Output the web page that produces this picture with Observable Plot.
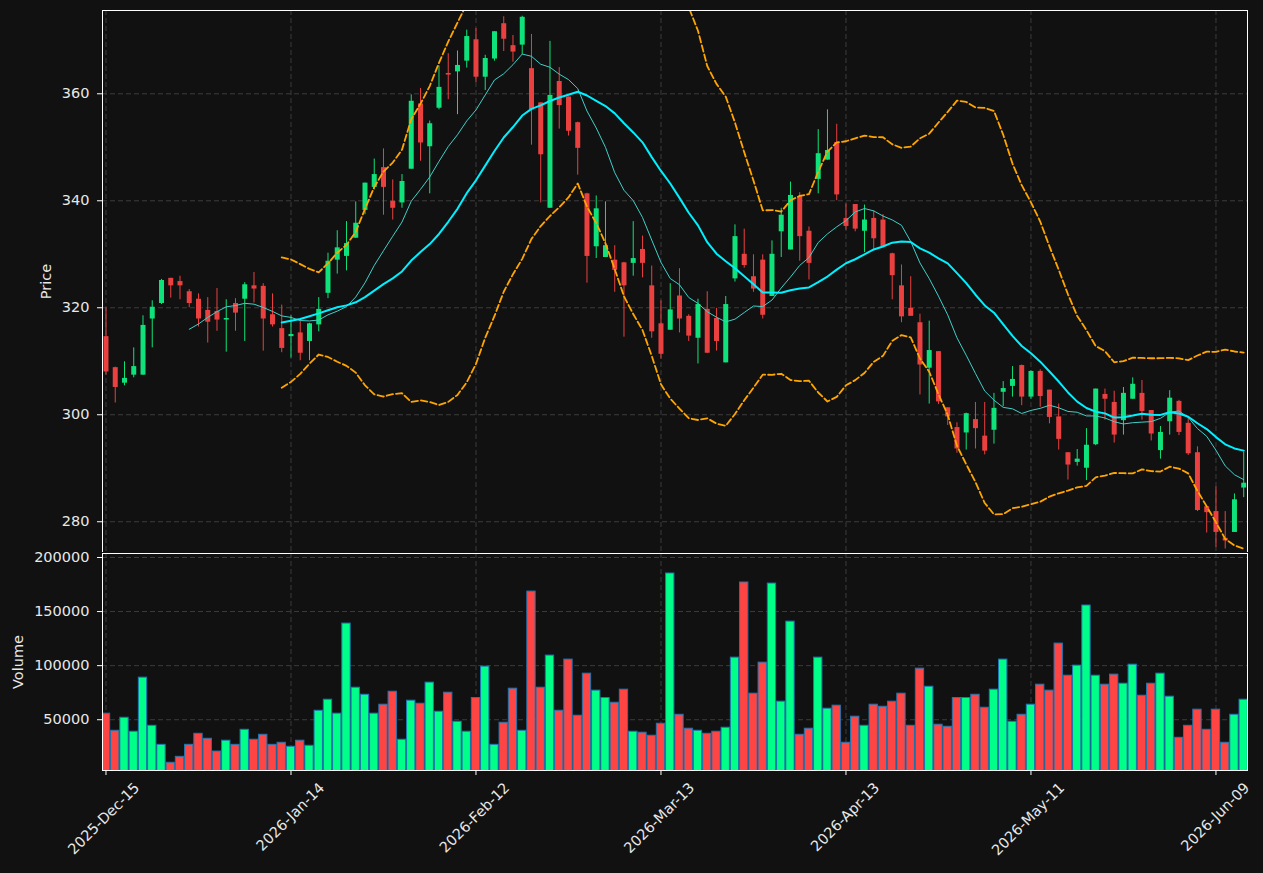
<!DOCTYPE html>
<html><head><meta charset="utf-8">
<script src="https://cdn.jsdelivr.net/npm/d3@7"></script>
<script src="https://cdn.jsdelivr.net/npm/@observablehq/plot@0.6"></script>
<style>
body{margin:0;background:#111111;}
#wrap{position:relative;width:1263px;height:873px;background:#111111;overflow:hidden;}
#price{position:absolute;left:0;top:0;}
#vol{position:absolute;left:0;top:552px;}
svg{overflow:visible;}
</style></head><body><div id="wrap"><div id="price"></div><div id="vol"></div></div>
<script>
const opens=[314.6,308.8,305.9,307.4,307.4,317.9,320.8,325.5,324.9,323.0,
321.6,319.5,319.3,317.7,320.8,321.6,324.1,324.0,318.7,316.1,
314.6,315.3,313.7,316.8,322.7,328.9,329.6,333.0,338.2,342.5,
346.2,339.9,339.6,345.9,358.1,350.1,357.3,363.8,364.1,366.1,
370.1,363.1,366.5,373.1,369.0,369.1,364.7,358.3,338.6,362.3,
359.4,354.6,341.3,331.4,329.4,328.9,328.4,328.3,330.9,324.1,
317.0,315.8,322.2,318.4,314.3,319.7,318.0,309.7,325.4,330.0,
325.8,328.9,322.1,334.2,330.8,340.8,334.3,344.0,347.6,350.9,
336.7,339.3,334.3,336.7,336.4,330.1,324.1,319.9,317.2,308.7,
311.8,301.3,297.6,296.6,299.1,296.0,297.1,304.2,305.3,309.2,
303.3,308.1,304.6,299.6,292.9,291.1,290.0,294.4,303.8,302.3,
298.9,302.9,304.0,300.8,293.3,298.7,302.5,298.4,292.9,282.8,
281.9,276.9,278.0,286.3];
const closes=[308.0,305.1,306.8,309.0,316.7,320.1,325.1,324.1,324.1,320.8,
317.9,317.3,317.7,318.0,319.0,324.3,323.5,317.9,316.8,312.4,
315.0,311.5,317.0,319.7,328.7,331.2,332.0,335.8,343.3,344.9,
342.5,338.6,343.6,358.6,350.8,354.4,361.2,363.5,365.3,370.7,
363.1,366.6,371.6,370.2,367.8,374.3,357.0,348.6,359.7,357.8,
353.0,349.8,329.6,338.5,331.6,327.0,324.1,329.2,328.3,315.5,
311.3,319.6,317.9,314.7,320.6,311.5,313.7,320.6,333.3,327.9,
323.5,318.6,330.0,337.3,341.0,333.3,328.3,348.8,349.4,341.1,
335.2,334.7,336.4,332.9,331.4,326.0,318.3,318.4,309.3,312.0,
302.4,299.6,293.6,300.2,297.4,293.2,301.2,304.9,306.6,303.3,
308.1,303.4,299.5,295.4,290.6,291.7,294.3,304.8,302.9,296.2,
304.0,305.7,300.6,296.4,296.7,303.1,296.7,292.7,282.1,281.7,
278.0,276.4,284.1,287.2];
const highs=[320.0,308.9,309.9,312.5,318.5,321.3,325.3,325.5,325.9,323.4,
322.6,321.9,323.6,321.5,321.7,324.7,326.6,324.5,322.6,320.5,
318.5,317.7,317.1,321.9,330.2,334.4,336.1,339.8,343.3,347.8,
349.7,343.9,344.9,359.8,361.0,354.9,365.2,367.5,368.0,371.9,
372.2,367.2,371.6,374.4,370.9,374.5,371.1,358.3,369.8,364.9,
359.4,354.7,341.4,340.9,339.8,331.6,328.5,336.1,333.4,327.8,
321.3,324.5,327.3,318.7,321.6,323.0,319.9,322.1,335.5,334.7,
329.9,329.9,332.5,338.6,343.5,341.5,335.1,353.3,357.0,354.3,
339.4,339.3,339.2,338.1,337.4,330.2,328.0,325.8,318.8,317.5,
311.8,301.3,298.5,300.3,302.3,302.3,304.0,306.2,309.0,309.3,
308.2,308.4,304.6,302.0,292.9,293.5,297.4,304.8,304.8,304.4,
305.1,306.9,306.4,300.8,297.8,304.5,302.7,299.3,294.0,282.8,
286.5,281.9,285.2,293.0];
const lows=[307.4,302.2,305.4,306.9,307.4,312.5,320.6,321.8,321.5,320.0,
316.4,313.4,315.6,311.7,315.6,313.7,320.9,311.9,316.4,311.6,
310.6,310.1,310.1,315.5,321.7,326.3,326.9,333.0,337.4,342.0,
337.3,336.4,338.6,345.9,347.4,341.3,357.0,358.9,356.1,364.8,
362.1,360.6,366.1,367.9,365.9,367.3,350.4,339.6,338.6,353.4,
352.1,344.8,324.6,329.2,329.4,322.9,314.5,325.9,325.6,314.3,
310.4,315.8,315.3,313.7,309.5,311.5,311.9,309.7,324.8,327.4,
322.9,317.9,322.1,329.4,330.8,328.7,325.2,341.3,347.6,340.0,
334.5,334.2,330.3,330.6,331.4,321.5,317.2,318.4,303.7,302.0,
301.9,298.0,292.8,293.4,293.6,292.5,294.5,301.5,303.3,301.7,
302.9,301.4,298.3,293.4,287.8,290.4,287.7,294.2,299.0,294.7,
296.2,302.9,299.0,295.1,291.7,296.2,296.1,292.4,281.9,277.9,
275.2,274.9,278.0,284.5];
const volumes=[55600,39800,51800,38900,88900,44400,26800,10200,15700,26800,
37000,32400,20600,30600,26800,40700,31500,36100,26800,28700,
25000,30600,25900,58300,68500,55600,138900,79600,73100,55600,
63900,75900,31500,67600,64800,84300,57400,75000,48100,38900,
70100,99100,26800,47200,78700,39800,168500,79600,109300,58300,
105600,53700,92600,76900,70100,65700,77800,38900,38000,35200,
46300,185200,54600,41700,39800,37000,38900,42600,107400,176900,
74100,102800,175900,66700,140700,36100,41700,107400,60200,63000,
28700,52800,44400,63900,62000,66700,74100,44400,97200,80500,
45400,43500,70100,70100,73100,61100,77800,105600,48100,54600,
63900,82400,76900,120400,90700,100000,155600,90700,82400,91700,
83300,100900,72200,83300,92600,71300,33300,44400,59300,40700,
59300,28700,54600,68500];
const tickIdx=[0,20,40,60,80,100,120];
const tickLabels=["2025-Dec-15","2026-Jan-14","2026-Feb-12","2026-Mar-13","2026-Apr-13","2026-May-11","2026-Jun-09"];
const priceTicks=[280,300,320,340,360];
const volTicks=[50000,100000,150000,200000];

const UP="#0fe27a", DOWN="#ea4040", VUP="#00ff88", VDOWN="#ff4444";
const data=opens.map((o,i)=>({i,open:o,high:highs[i],low:lows[i],close:closes[i],volume:volumes[i]}));

function rolling(n){
  const out=[];
  for(let i=n-1;i<closes.length;i++){
    const w=closes.slice(i-n+1,i+1);
    const m=d3.mean(w), s=d3.deviation(w);
    out.push({i,m,up:m+2*s,lo:m-2*s});
  }
  return out;
}
const ma10=rolling(10), ma20=rolling(20);

const xDom=[-0.378,123.41];
const font={fontFamily:"DejaVu Sans, sans-serif",fontSize:"14.5px",background:"#111111",color:"white",overflow:"visible"};
const gridStyle={stroke:"#3c3c3c",strokeOpacity:1,strokeDasharray:"5,3",strokeWidth:1};
const fmt=d=>String(d);

const price=Plot.plot({
  width:1263,height:552,marginLeft:102,marginRight:16,marginTop:10,marginBottom:0,
  style:font,
  x:{domain:xDom,axis:null},
  y:{domain:[274.25,375.57],axis:null},
  marks:[
    Plot.gridY(priceTicks,gridStyle),
    Plot.gridX(tickIdx,gridStyle),
    Plot.ruleX(data,{x:"i",y1:"low",y2:"high",stroke:d=>d.close>=d.open?UP:DOWN,strokeWidth:1,clip:true}),
    Plot.ruleX(data,{x:"i",y1:"open",y2:"close",stroke:d=>d.close>=d.open?UP:DOWN,strokeWidth:5,clip:true}),
    Plot.line(ma20,{x:"i",y:"up",stroke:"#ffa500",strokeWidth:1.8,strokeDasharray:"6.5,3",clip:true}),
    Plot.line(ma20,{x:"i",y:"lo",stroke:"#ffa500",strokeWidth:1.8,strokeDasharray:"6.5,3",clip:true}),
    Plot.line(ma10,{x:"i",y:"m",stroke:"#40d0c8",strokeWidth:1,clip:true}),
    Plot.line(ma20,{x:"i",y:"m",stroke:"#00f0ff",strokeWidth:2,clip:true}),
    Plot.axisY(priceTicks,{anchor:"left",tickSize:5,tickPadding:8,label:null,tickFormat:fmt,fill:"#e8e8e8",stroke:"white"}),
    Plot.frame({stroke:"white",strokeWidth:1}),
    Plot.text(["Price"],{frameAnchor:"left",textAnchor:"middle",dx:-56,rotate:-90,fill:"#e8e8e8",fontSize:14.5})
  ]
});
document.getElementById("price").appendChild(price);

const vol=Plot.plot({
  width:1263,height:321,marginLeft:102,marginRight:16,marginTop:1,marginBottom:103,
  style:font,
  x:{domain:xDom,axis:null},
  y:{domain:[3056,203700],axis:null},
  marks:[
    Plot.gridY(volTicks,gridStyle),
    Plot.gridX(tickIdx,gridStyle),
    Plot.rect(data,{x1:d=>d.i-0.45,x2:d=>d.i+0.45,y1:()=>0,y2:"volume",fill:d=>d.close>=d.open?VUP:VDOWN,stroke:"#1f77b4",strokeWidth:1,clip:true}),
    Plot.axisY(volTicks,{anchor:"left",tickSize:5,tickPadding:8,label:null,tickFormat:fmt,fill:"#e8e8e8",stroke:"white"}),
    Plot.axisX(tickIdx,{anchor:"bottom",tickSize:5,tickFormat:()=>"",label:null,stroke:"white"}),
    Plot.axisX(tickIdx,{anchor:"bottom",tickSize:0,tickPadding:15,label:null,tickRotate:-45,dx:31,tickFormat:(d)=>tickLabels[tickIdx.indexOf(d)],fill:"#e8e8e8"}),
    Plot.frame({stroke:"white",strokeWidth:1}),
    Plot.text(["Volume"],{frameAnchor:"left",textAnchor:"middle",dx:-84,rotate:-90,fill:"#e8e8e8",fontSize:14.5})
  ]
});
document.getElementById("vol").appendChild(vol);
</script></body></html>
